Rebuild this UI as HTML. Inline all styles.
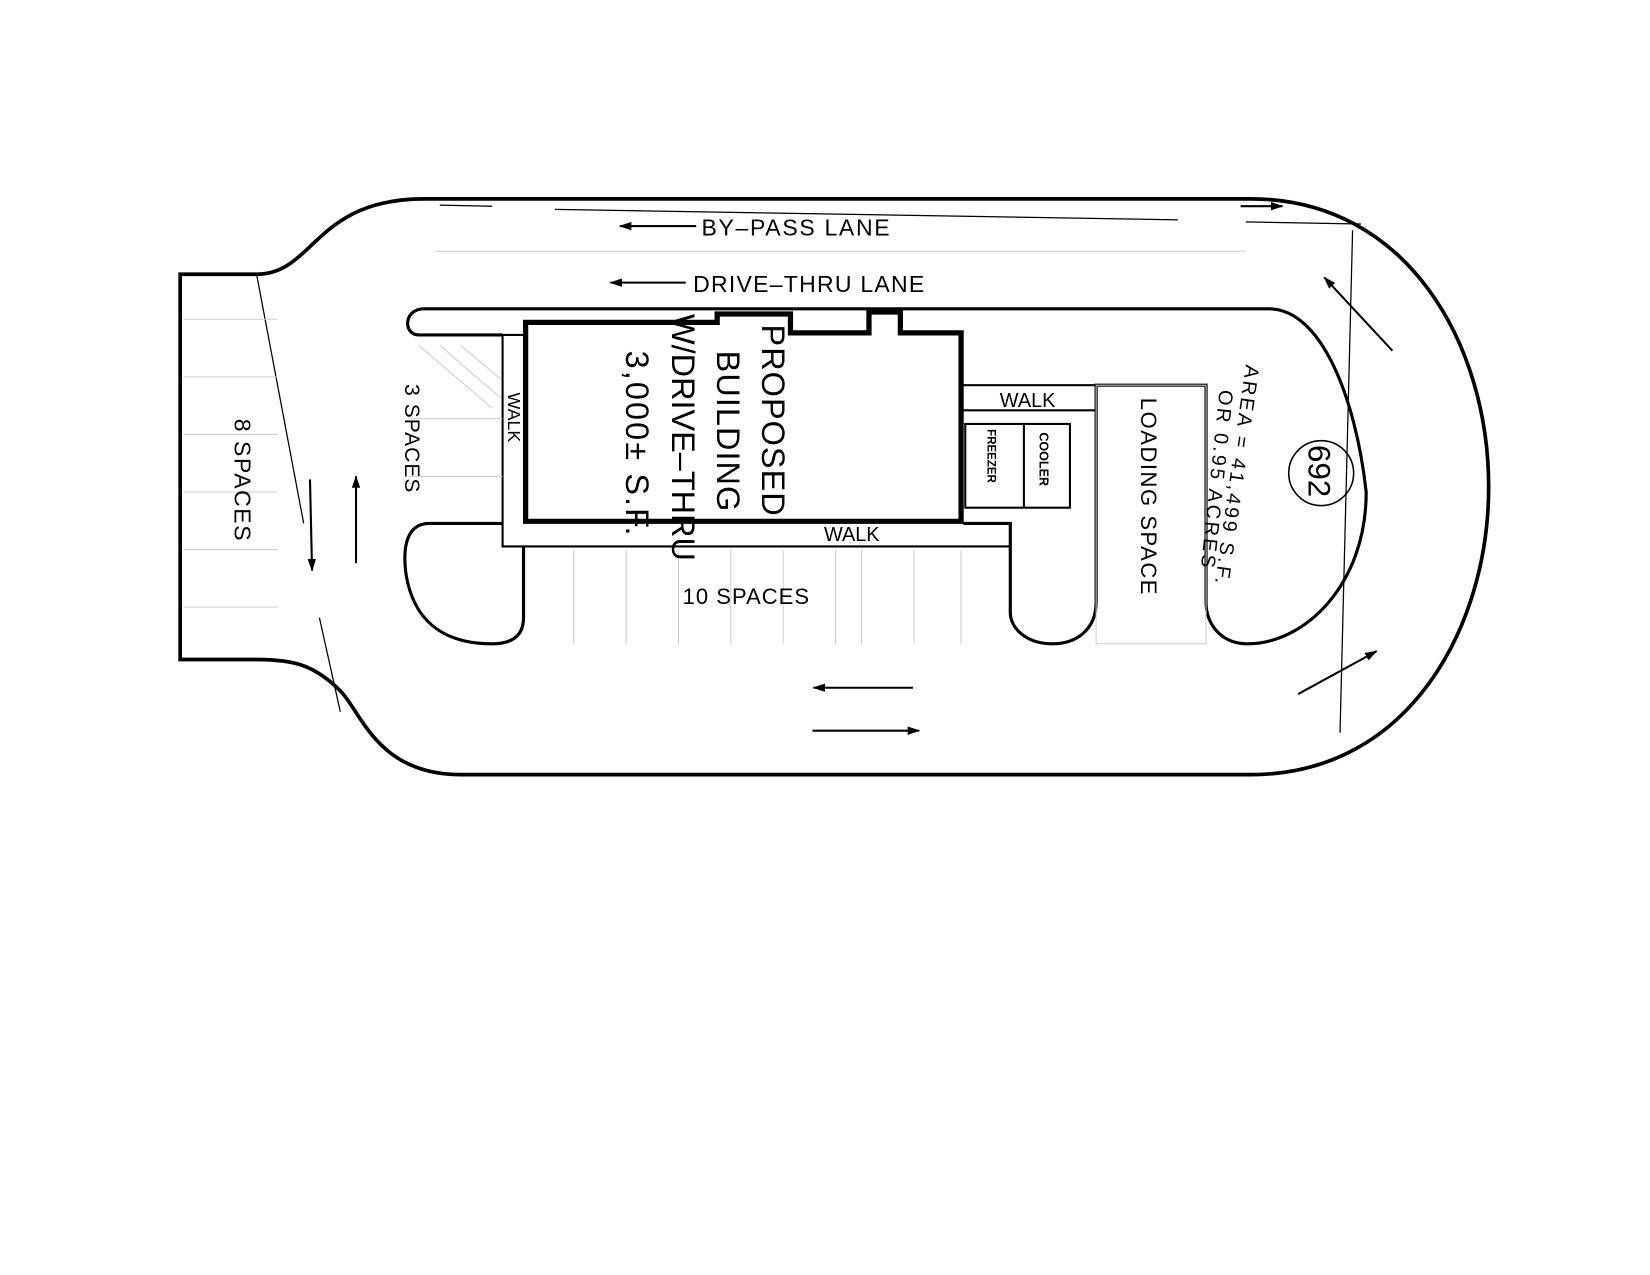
<!DOCTYPE html>
<html><head><meta charset="utf-8"><style>
html,body{margin:0;padding:0;background:#fff;}
svg{display:block;}
text{font-family:"Liberation Sans",sans-serif;fill:#000;}
</style></head><body>
<svg width="1650" height="1275" viewBox="0 0 1576 1218" xmlns="http://www.w3.org/2000/svg">
<defs>
<marker id="ah" markerWidth="12" markerHeight="8" refX="11" refY="4" orient="auto" markerUnits="userSpaceOnUse">
<path d="M0,0 L12,4 L0,8 Z" fill="#000"/></marker>
</defs>
<g fill="none" stroke="#000">
<path stroke-width="3.5" d="M172,262 L245,262 C300,262 300,190 405,190 L1195,190 C1345,190 1422,330 1422,465 C1422,600 1345,740 1195,740 L440,740 C360,740 345,680 325,660 C300,635 280,630 245,630 L172,630 Z"/>
<path stroke-width="3" d="M480,320 L400,320 C385,320 385,295 405,295 L1212,295 C1262,295 1295,380 1305,470 C1305,560 1245,615 1192,615 C1165,615 1152,595 1152,575 L1152,368 L1047,368 L1047,575 C1047,600 1030,615 1005,615 C980,615 965,600 965,585 L965,500 L920,500"/>
<path stroke-width="2" d="M500,320 L480,320 L480,522 L965,522"/>
<path stroke-width="2" d="M918,368 L1047,368 M918,392 L1047,392"/>
<rect x="922" y="405" width="100" height="80" stroke-width="2"/>
<line x1="978" y1="405" x2="978" y2="485" stroke-width="2"/>
<path stroke-width="3" d="M480,500 L410,500 C385,500 385,530 388,550 C395,590 420,615 470,615 C492,615 500,605 500,590 L500,522"/>
<path stroke-width="5" d="M502,308 L685,308 L685,300 L755,300 L755,318 L830,318 L830,298 L860,298 L860,318 L918,318 L918,498 L502,498 Z"/>
<g stroke-width="1.2">
<line x1="245" y1="262" x2="290" y2="500"/>
<line x1="305" y1="590" x2="325" y2="680"/>
<line x1="1292" y1="220" x2="1280" y2="700"/>
<line x1="420" y1="196" x2="470" y2="197"/>
<line x1="530" y1="200" x2="1125" y2="210"/>
<line x1="1190" y1="212" x2="1300" y2="214"/>
</g>
<g stroke="#ccc" stroke-width="1">
<line x1="415" y1="240" x2="1190" y2="240"/>
<line x1="175" y1="305" x2="265" y2="305"/><line x1="175" y1="360" x2="265" y2="360"/>
<line x1="175" y1="415" x2="265" y2="415"/><line x1="175" y1="470" x2="265" y2="470"/>
<line x1="175" y1="525" x2="265" y2="525"/><line x1="175" y1="580" x2="265" y2="580"/>
<line x1="390" y1="400" x2="480" y2="400"/><line x1="390" y1="455" x2="480" y2="455"/>
<line x1="548" y1="525" x2="548" y2="615"/><line x1="598" y1="525" x2="598" y2="615"/>
<line x1="648" y1="525" x2="648" y2="615"/><line x1="698" y1="525" x2="698" y2="615"/>
<line x1="748" y1="525" x2="748" y2="615"/><line x1="798" y1="525" x2="798" y2="615"/>
<line x1="823" y1="525" x2="823" y2="615"/><line x1="873" y1="525" x2="873" y2="615"/>
<line x1="918" y1="525" x2="918" y2="615"/>
<rect x="1047" y="368" width="105" height="247"/>
<line x1="400" y1="330" x2="470" y2="390"/><line x1="420" y1="330" x2="478" y2="380"/><line x1="440" y1="330" x2="478" y2="362"/>
</g>
<g stroke-width="2" marker-end="url(#ah)">
<line x1="665" y1="216" x2="592" y2="216"/>
<line x1="655" y1="270" x2="583" y2="270"/>
<line x1="296" y1="458" x2="298" y2="545"/>
<line x1="340" y1="538" x2="340" y2="455"/>
<line x1="872" y1="657" x2="777" y2="657"/>
<line x1="776" y1="698" x2="878" y2="698"/>
<line x1="1330" y1="335" x2="1265" y2="265"/>
<line x1="1240" y1="663" x2="1315" y2="622"/>
<line x1="1185" y1="197" x2="1225" y2="197"/>
</g>
<circle cx="1262" cy="452" r="31" stroke-width="1.5"/>
</g>
<text x="670" y="225" font-size="22" letter-spacing="1.6">BY–PASS LANE</text>
<text x="662" y="279" font-size="22" letter-spacing="1.2">DRIVE–THRU LANE</text>
<text x="955" y="389" font-size="19">WALK</text>
<text x="787" y="517" font-size="19">WALK</text>
<text x="652" y="577" font-size="21" letter-spacing="1">10 SPACES</text>
<text transform="translate(224,400) rotate(90)" font-size="22" letter-spacing="1.5">8 SPACES</text>
<text transform="translate(387,367) rotate(90)" font-size="20" letter-spacing="1">3 SPACES</text>
<text transform="translate(485,375) rotate(90)" font-size="17">WALK</text>
<text transform="translate(728,310) rotate(90)" font-size="31" letter-spacing="1">PROPOSED</text>
<text transform="translate(685,335) rotate(90)" font-size="31" letter-spacing="1">BUILDING</text>
<text transform="translate(642,300) rotate(90)" font-size="31">W/DRIVE–THRU</text>
<text transform="translate(598,335) rotate(90)" font-size="31" letter-spacing="2">3,000± S.F.</text>
<text transform="translate(943,410) rotate(90)" font-size="11" font-weight="bold">FREEZER</text>
<text transform="translate(993,413) rotate(90)" font-size="12" font-weight="bold">COOLER</text>
<text transform="translate(1090,380) rotate(90)" font-size="21" letter-spacing="1.5">LOADING SPACE</text>
<text transform="translate(1190,348) rotate(98)" font-size="19" letter-spacing="2.5">AREA = 41,499 S.F.</text>
<text transform="translate(1165,372) rotate(96)" font-size="19" letter-spacing="2.5">OR 0.95 ACRES</text>
<text transform="translate(1250,425) rotate(90)" font-size="30">692</text>
</svg>
</body></html>
